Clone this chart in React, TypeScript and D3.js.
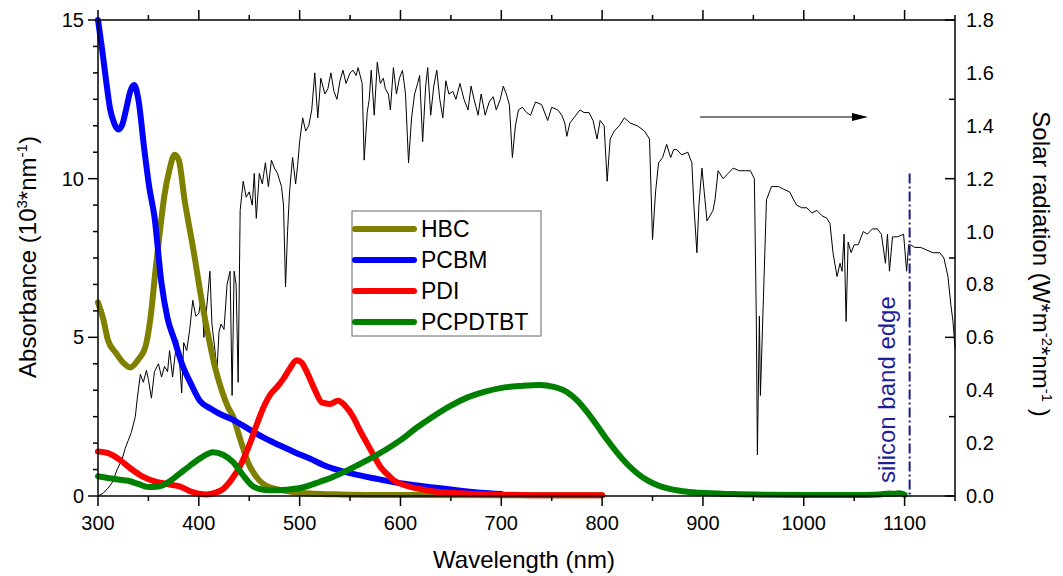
import React from "react";
import * as d3 from "d3";

// absorbance series, wavelength (nm) -> 10^3 nm^-1
const hbcWl = [300, 305, 310, 318, 325, 332, 340, 347, 352, 357, 362, 366, 371, 376, 380, 386, 391, 396, 401, 406, 411, 416, 422, 429, 434, 439, 444, 449, 456, 463, 473, 483, 495, 510, 540, 600, 700, 800];
const hbcVal = [6.1, 5.6, 4.9, 4.5, 4.2, 4.05, 4.3, 4.7, 5.6, 7.1, 8.5, 9.5, 10.3, 10.75, 10.6, 9.3, 8.4, 7.5, 6.5, 5.6, 4.8, 4.07, 3.4, 2.8, 2.5, 2.0, 1.5, 1.04, 0.65, 0.4, 0.25, 0.18, 0.12, 0.08, 0.05, 0.03, 0.02, 0.02];

const pcbmWl = [300, 304, 308, 312, 316, 320, 324, 328, 332, 336, 340, 346, 351, 356, 363, 369, 376, 384, 392, 401, 412, 420, 434, 450, 463, 480, 495, 510, 528, 550, 575, 600, 630, 656, 680, 700];
const pcbmVal = [15, 14.1, 13.1, 12.2, 11.75, 11.55, 11.7, 12.2, 12.75, 12.95, 12.5, 10.9, 9.7, 8.8, 6.7, 5.6, 4.9, 4.1, 3.55, 3.0, 2.75, 2.6, 2.4, 2.1, 1.86, 1.6, 1.38, 1.18, 0.92, 0.72, 0.55, 0.4, 0.28, 0.18, 0.1, 0.06];

const pdiWl = [300, 310, 322, 333, 345, 357, 368, 381, 394, 400, 408, 416, 424, 432, 441, 450, 458, 465, 471, 478, 484, 490, 497, 502, 508, 515, 522, 530, 538, 545, 553, 560, 567, 574, 580, 587, 593, 605, 616, 630, 649, 675, 700, 750, 800];
const pdiVal = [1.4, 1.35, 1.13, 0.85, 0.6, 0.45, 0.38, 0.3, 0.12, 0.07, 0.05, 0.1, 0.22, 0.5, 0.95, 1.6, 2.3, 2.85, 3.2, 3.45, 3.7, 4.0, 4.28, 4.2, 3.85, 3.35, 2.95, 2.9, 3.0, 2.85, 2.5, 2.05, 1.65, 1.25, 0.92, 0.68, 0.5, 0.33, 0.24, 0.16, 0.1, 0.06, 0.04, 0.02, 0.02];

const pcpWl = [300, 310, 320, 330, 340, 350, 360, 368, 380, 391, 402, 414, 424, 434, 444, 454, 464, 474, 487, 500, 520, 533, 550, 567, 585, 600, 616, 632, 650, 666, 683, 699, 720, 738, 752, 765, 775, 785, 795, 805, 815, 825, 835, 845, 855, 865, 880, 897, 930, 964, 1000, 1050, 1075, 1085, 1090, 1095, 1100];
const pcpVal = [0.62, 0.57, 0.52, 0.48, 0.38, 0.28, 0.3, 0.4, 0.68, 0.95, 1.2, 1.38, 1.3, 1.07, 0.65, 0.3, 0.2, 0.18, 0.2, 0.25, 0.45, 0.6, 0.85, 1.13, 1.45, 1.76, 2.15, 2.5, 2.85, 3.1, 3.28, 3.4, 3.47, 3.5, 3.44, 3.28, 3.02, 2.65, 2.22, 1.77, 1.36, 1.0, 0.71, 0.49, 0.34, 0.24, 0.15, 0.1, 0.06, 0.04, 0.03, 0.03, 0.05, 0.08, 0.07, 0.09, 0.04];

// solar spectrum, W m^-2 nm^-1
const solarWl = [300, 305, 310, 314, 319, 324, 327, 330, 333, 337, 339, 342, 345, 348, 350, 353, 356, 360, 363, 366, 369, 371, 374, 377, 379, 381, 383, 385, 388, 391, 394, 397, 400, 403, 405, 408, 411, 413, 416, 418, 420, 422, 425, 428, 431, 433, 435, 437, 439, 441, 444, 447, 450, 453, 455, 457, 460, 463, 466, 469, 472, 475, 478, 482, 484, 486, 488, 490, 493, 496, 498, 500, 503, 506, 509, 512, 515, 518, 521, 525, 528, 531, 534, 537, 540, 543, 546, 550, 553, 556, 558, 562, 564, 567, 569, 571, 574, 577, 580, 583, 585, 588, 590, 593, 596, 599, 602, 605, 608, 611, 614, 617, 619, 622, 625, 627, 630, 633, 636, 639, 642, 645, 648, 652, 655, 659, 663, 667, 670, 673, 677, 680, 684, 688, 692, 695, 699, 702, 705, 708, 711, 714, 717, 721, 725, 729, 734, 740, 746, 750, 756, 760, 763, 765, 768, 772, 778, 782, 787, 791, 795, 798, 802, 805, 808, 812, 817, 822, 828, 835, 842, 847, 850, 853, 856, 860, 864, 868, 871, 874, 879, 885, 889, 891, 894, 896, 899, 902, 904, 907, 910, 912, 915, 920, 925, 930, 936, 942, 947, 951, 953, 954, 956, 957, 960, 963, 968, 975, 980, 986, 990, 993, 998, 1003, 1008, 1013, 1018, 1023, 1026, 1029, 1033, 1036, 1038, 1040, 1042, 1044, 1047, 1050, 1054, 1059, 1063, 1068, 1073, 1077, 1081, 1083, 1085, 1088, 1093, 1099, 1102, 1104, 1106, 1110, 1116, 1122, 1128, 1135, 1139, 1143, 1146, 1148, 1150];
const solarVal = [0.0, 0.01, 0.03, 0.05, 0.1, 0.14, 0.18, 0.21, 0.24, 0.3, 0.37, 0.46, 0.43, 0.475, 0.44, 0.37, 0.47, 0.5, 0.45, 0.49, 0.47, 0.55, 0.45, 0.55, 0.59, 0.5, 0.39, 0.58, 0.55, 0.63, 0.74, 0.68, 0.69, 0.77, 0.6, 0.72, 0.85, 0.65, 0.55, 0.475, 0.62, 0.65, 0.63, 0.8, 0.85, 0.38, 0.85, 0.8, 0.43, 1.08, 1.19, 1.13, 1.15, 1.1, 1.22, 1.05, 1.22, 1.18, 1.26, 1.17, 1.27, 1.24, 1.22, 1.17, 1.1, 0.79, 1.0, 1.15, 1.28, 1.18, 1.25, 1.34, 1.43, 1.38, 1.4, 1.46, 1.6, 1.43, 1.58, 1.52, 1.54, 1.6, 1.53, 1.5, 1.57, 1.61, 1.56, 1.6, 1.61, 1.59, 1.62, 1.56, 1.27, 1.45, 1.5, 1.61, 1.44, 1.64, 1.56, 1.58, 1.54, 1.52, 1.46, 1.62, 1.52, 1.58, 1.61, 1.52, 1.26, 1.43, 1.52, 1.56, 1.59, 1.34, 1.55, 1.62, 1.44, 1.55, 1.61, 1.5, 1.43, 1.57, 1.52, 1.53, 1.5, 1.56, 1.5, 1.46, 1.55, 1.5, 1.44, 1.52, 1.44, 1.49, 1.51, 1.46, 1.5, 1.55, 1.52, 1.48, 1.28, 1.4, 1.46, 1.47, 1.45, 1.44, 1.49, 1.48, 1.42, 1.47, 1.46, 1.44, 1.41, 1.36, 1.41, 1.43, 1.46, 1.45, 1.45, 1.42, 1.35, 1.42, 1.4, 1.19, 1.35, 1.38, 1.4, 1.43, 1.41, 1.4, 1.38, 1.35, 0.97, 1.15, 1.26, 1.28, 1.33, 1.28, 1.31, 1.31, 1.29, 1.3, 1.26, 1.1, 0.92, 1.1, 1.24, 1.12, 1.04, 1.06, 1.08, 1.12, 1.23, 1.2, 1.22, 1.24, 1.23, 1.23, 1.23, 1.2, 0.65, 0.155, 0.68, 0.38, 0.75, 1.12, 1.17, 1.17, 1.16, 1.15, 1.12, 1.1, 1.09, 1.09, 1.07, 1.08, 1.06, 1.05, 1.03, 0.92, 0.83, 0.88, 0.85, 0.99, 0.66, 0.96, 0.92, 0.95, 0.95, 1.0, 0.99, 1.01, 1.01, 0.99, 0.88, 0.99, 0.85, 0.98, 0.98, 0.99, 0.85, 0.95, 0.95, 0.94, 0.94, 0.93, 0.92, 0.92, 0.9, 0.83, 0.72, 0.66, 0.56];

const series = [
  { name: "HBC", color: "#808000", wl: hbcWl, val: hbcVal },
  { name: "PCBM", color: "#0000ff", wl: pcbmWl, val: pcbmVal },
  { name: "PDI", color: "#ff0000", wl: pdiWl, val: pdiVal },
  { name: "PCPDTBT", color: "#008000", wl: pcpWl, val: pcpVal },
];

const xTicks = [300, 400, 500, 600, 700, 800, 900, 1000, 1100];
const leftTicks = [0, 5, 10, 15];
const rightLabels = [0.0, 0.2, 0.4, 0.6, 0.8, 1.0, 1.2, 1.4, 1.6, 1.8];
const bandEdge = 1105;

const font = "'Liberation Sans', Arial, Helvetica, sans-serif";

export default function App() {
  const x = d3.scaleLinear().domain([300, 1150]).range([98, 955]);
  const yL = d3.scaleLinear().domain([0, 15]).range([496, 20]);
  const yR = d3.scaleLinear().domain([0, 1.8]).range([496, 20]);

  const absLine = d3
    .line<[number, number]>()
    .x((d) => x(d[0]))
    .y((d) => yL(d[1]))
    .curve(d3.curveMonotoneX);
  const solarLine = d3
    .line<[number, number]>()
    .x((d) => x(d[0]))
    .y((d) => yR(d[1]));

  const solarPts = solarWl.map((w, i) => [w, solarVal[i]] as [number, number]);

  const xMinor = d3.range(300, 1151, 50);
  const leftMinor = d3.range(0, 15.01, 5 / 6);
  const rightTicks = d3.range(0, 1.81, 0.3);

  const legX = 352, legY = 211;

  return (
    <svg width={1063} height={576} style={{ position: "absolute", left: 0, top: 0, background: "#fff" }} fontFamily={font}>
      <rect width={1063} height={576} fill="#fff" />

      {/* solar spectrum */}
      <path d={solarLine(solarPts) || ""} fill="none" stroke="#000" strokeWidth={1} strokeLinejoin="round" />

      {series.map((s) => (
        <path
          key={s.name}
          d={absLine(s.wl.map((w, i) => [w, s.val[i]] as [number, number])) || ""}
          fill="none"
          stroke={s.color}
          strokeWidth={6}
          strokeLinejoin="round"
          strokeLinecap="round"
        />
      ))}

      {/* silicon band edge */}
      <line x1={x(bandEdge)} x2={x(bandEdge)} y1={yR(1.22)} y2={yR(0)} stroke="#1a1a8e" strokeWidth={2} strokeDasharray="10 3 2 3" />
      <text transform={`translate(${x(bandEdge) - 15},${yR(0) - 13}) rotate(-90)`} fontSize={24} fill="#1f1f9c">
        silicon band edge
      </text>

      {/* arrow to right axis */}
      <line x1={700} x2={855} y1={117} y2={117} stroke="#000" strokeWidth={1.2} />
      <path d="M868,117 L852,113 L852,121 Z" fill="#000" />

      {/* frame */}
      <line x1={98} x2={955} y1={20} y2={20} stroke="#000" strokeWidth={1.5} />
      <line x1={98} x2={955} y1={496} y2={496} stroke="#000" strokeWidth={1.5} />
      <line x1={98} x2={98} y1={20} y2={496} stroke="#000" strokeWidth={1.5} />
      <line x1={955} x2={955} y1={20} y2={496} stroke="#000" strokeWidth={1.5} />

      {/* bottom & top ticks */}
      {xMinor.map((t) => {
        const major = t % 100 === 0;
        return (
          <g key={"xt" + t}>
            <line x1={x(t)} x2={x(t)} y1={496} y2={major ? 506 : 501} stroke="#000" strokeWidth={1.5} />
            <line x1={x(t)} x2={x(t)} y1={20} y2={major ? 10 : 15} stroke="#000" strokeWidth={1.5} />
          </g>
        );
      })}
      {xTicks.map((t) => (
        <text key={"xl" + t} x={x(t)} y={530} fontSize={20} textAnchor="middle">
          {t}
        </text>
      ))}

      {/* left ticks */}
      {leftMinor.map((t, i) => {
        const major = i % 6 === 0;
        return <line key={"lt" + i} x1={98} x2={major ? 88 : 93} y1={yL(t)} y2={yL(t)} stroke="#000" strokeWidth={1.5} />;
      })}
      {leftTicks.map((t) => (
        <text key={"ll" + t} x={84} y={yL(t) + 7} fontSize={20} textAnchor="end">
          {t}
        </text>
      ))}

      {/* right ticks */}
      {rightTicks.map((t, i) => (
        <line key={"rt" + i} x1={955} x2={i % 2 === 0 ? 945 : 949} y1={yR(t)} y2={yR(t)} stroke="#000" strokeWidth={1.5} />
      ))}
      {rightLabels.map((t) => (
        <text key={"rl" + t} x={966} y={yR(t) + 7} fontSize={20} textAnchor="start">
          {t.toFixed(1)}
        </text>
      ))}

      {/* axis titles */}
      <text x={524} y={568} fontSize={24} textAnchor="middle">
        Wavelength (nm)
      </text>
      <text transform="translate(36,257) rotate(-90)" fontSize={24} textAnchor="middle">
        Absorbance (10<tspan dy={-9} fontSize={15}>3</tspan>
        <tspan dy={9}>*nm</tspan>
        <tspan dy={-9} fontSize={15}>-1</tspan>
        <tspan dy={9}>)</tspan>
      </text>
      <text transform="translate(1033,264) rotate(90)" fontSize={24} textAnchor="middle">
        Solar radiation (W*m<tspan dy={-9} fontSize={15}>-2</tspan>
        <tspan dy={9}>*nm</tspan>
        <tspan dy={-9} fontSize={15}>-1</tspan>
        <tspan dy={9}> )</tspan>
      </text>

      {/* legend */}
      <rect x={legX} y={legY} width={189} height={125} fill="#fff" stroke="#666" strokeWidth={1} />
      {series.map((s, i) => (
        <g key={"lg" + s.name} transform={`translate(${legX},${legY + 18 + i * 31})`}>
          <line x1={3} x2={62} y1={0} y2={0} stroke={s.color} strokeWidth={6} strokeLinecap="round" />
          <text x={69} y={8} fontSize={23}>
            {s.name}
          </text>
        </g>
      ))}
    </svg>
  );
}
